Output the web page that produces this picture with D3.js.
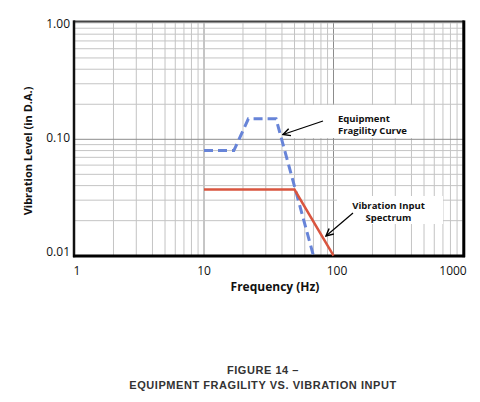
<!DOCTYPE html>
<html><head><meta charset="utf-8">
<script src="https://cdn.jsdelivr.net/npm/d3@7"></script>
<style>body{margin:0;background:#fff}svg{display:block}</style>
</head><body>
<svg id="c" width="480" height="402"></svg>
<script>
// ---- data ----
const fragilityFreq = [10, 17, 22, 36, 70];
const fragilityLevel = [0.08, 0.08, 0.15, 0.15, 0.01];
const inputFreq = [10, 50, 100];
const inputLevel = [0.037, 0.037, 0.01];
const xTicks = [1, 10, 100, 1000];
const xTickLabels = ["1", "10", "100", "1000"];
const yTicks = [0.01, 0.1, 1];
const yTickLabels = ["0.01", "0.10", "1.00"];
const xTitle = "Frequency (Hz)";
const yTitle = "Vibration Level (in D.A.)";
const caption = ["FIGURE 14 \u2013", "EQUIPMENT FRAGILITY VS. VIBRATION INPUT"];
const labelFragility = ["Equipment", "Fragility Curve"];
const labelInput = ["Vibration Input", "Spectrum"];

// ---- layout ----
const svg = d3.select("#c");
const L = 74.5, R = 463, T = 22.9, B = 255.7;
const x = d3.scaleLog().domain([1, 1000]).range([L, R]);
const y = d3.scaleLog().domain([0.01, 1]).range([B, T]);

// gridlines
const xg = [], yg = [];
for (let k = 0; k < 3; k++) for (let m = 1; m < 10; m++) xg.push(m * Math.pow(10, k));
xg.push(1000);
for (let k = -2; k < 0; k++) for (let m = 1; m < 10; m++) yg.push(m * Math.pow(10, k));
yg.push(1);
const grid = svg.append("g");
grid.selectAll("line.vx").data(xg).join("line")
  .attr("x1", d => x(d)).attr("x2", d => x(d)).attr("y1", T).attr("y2", B)
  .attr("stroke", d => (d === 10 || d === 100) ? "#8c8c8c" : "#c4c4c4").attr("stroke-width", 1);
grid.selectAll("line.hy").data(yg).join("line")
  .attr("y1", d => y(d)).attr("y2", d => y(d)).attr("x1", L).attr("x2", R)
  .attr("stroke", d => (d === 0.1) ? "#8c8c8c" : "#c4c4c4").attr("stroke-width", 1);

// label boxes (white) over grid
svg.append("rect").attr("x", 286).attr("y", 105).attr("width", 137).attr("height", 33).attr("fill", "#fff");
svg.append("rect").attr("x", 337).attr("y", 196).attr("width", 106).attr("height", 28).attr("fill", "#fff");

// frame
svg.append("line").attr("x1", L - 1).attr("x2", R + 1).attr("y1", T - 1.5).attr("y2", T - 1.5).attr("stroke", "#444").attr("stroke-width", 2);
svg.append("line").attr("x1", L - 0.5).attr("x2", L - 0.5).attr("y1", T - 2.5).attr("y2", B + 1.5).attr("stroke", "#111").attr("stroke-width", 2.5);
svg.append("line").attr("x1", R + 0.8).attr("x2", R + 0.8).attr("y1", T - 2.5).attr("y2", B + 1.5).attr("stroke", "#000").attr("stroke-width", 3);
svg.append("line").attr("x1", L - 1.5).attr("x2", R + 2).attr("y1", B + 0.3).attr("y2", B + 0.3).attr("stroke", "#000").attr("stroke-width", 3);

// series
const line = d3.line().x(d => x(d[0])).y(d => y(d[1]));
svg.append("path").datum(fragilityFreq.map((f, i) => [f, fragilityLevel[i]]))
  .attr("d", line).attr("fill", "none").attr("stroke", "#6784d8").attr("stroke-width", 3)
  .attr("stroke-dasharray", "9,5");
svg.append("path").datum(inputFreq.map((f, i) => [f, inputLevel[i]]))
  .attr("d", line).attr("fill", "none").attr("stroke", "#d9553f").attr("stroke-width", 2.5);

// arrows
const defs = svg.append("defs");
defs.append("marker").attr("id", "ah").attr("viewBox", "0 0 10 10").attr("refX", 9).attr("refY", 5)
  .attr("markerWidth", 9).attr("markerHeight", 9).attr("markerUnits", "userSpaceOnUse").attr("orient", "auto")
  .append("path").attr("d", "M1,1 L9,5 L1,9").attr("fill", "none").attr("stroke", "#000").attr("stroke-width", 1.6);
svg.append("line").attr("x1", 323).attr("y1", 121).attr("x2", 283).attr("y2", 134.5)
  .attr("stroke", "#000").attr("stroke-width", 1.2).attr("marker-end", "url(#ah)");
svg.append("line").attr("x1", 353).attr("y1", 213).attr("x2", 326).attr("y2", 236)
  .attr("stroke", "#000").attr("stroke-width", 1.2).attr("marker-end", "url(#ah)");

// annotation text
const ann = "font-family:'Open Sans',sans-serif;font-weight:bold;font-size:9.5px;fill:#111";
svg.append("text").attr("x", 338).attr("y", 121.5).attr("style", ann).text(labelFragility[0]);
svg.append("text").attr("x", 338).attr("y", 134).attr("style", ann).text(labelFragility[1]);
svg.append("text").attr("x", 388.5).attr("y", 208.5).attr("text-anchor", "middle").attr("style", ann).text(labelInput[0]);
svg.append("text").attr("x", 388.5).attr("y", 221).attr("text-anchor", "middle").attr("style", ann).text(labelInput[1]);

// tick labels
const tk = "font-family:'Open Sans',sans-serif;font-size:12px;fill:#111";
const xOff = [2.5, 0, 3.5, -10];
svg.selectAll("text.xt").data(xTicks).join("text")
  .attr("x", (d, i) => x(d) + xOff[i]).attr("y", 274.5).attr("text-anchor", "middle")
  .attr("style", tk).text((d, i) => xTickLabels[i]);
const yOff = [-4, -1, 1];
svg.selectAll("text.yt").data(yTicks).join("text")
  .attr("x", 70).attr("y", (d, i) => y(d) + 4 + yOff[i]).attr("text-anchor", "end")
  .attr("style", tk).text((d, i) => yTickLabels[i]);

// axis titles
const ttl = "font-family:'Open Sans',sans-serif;font-weight:bold;font-size:12px;fill:#111";
svg.append("text").attr("x", 275).attr("y", 291).attr("text-anchor", "middle").attr("style", ttl).text(xTitle);
svg.append("text").attr("transform", "translate(31.5,151) rotate(-90)").attr("text-anchor", "middle")
  .attr("style", ttl + ";font-size:11px").text(yTitle);

// caption
const cap = "font-family:'Liberation Sans',Arial,sans-serif;font-weight:bold;font-size:11px;letter-spacing:0.55px;fill:#333";
svg.append("text").attr("x", 263).attr("y", 374).attr("text-anchor", "middle").attr("style", cap).text(caption[0]);
svg.append("text").attr("x", 263).attr("y", 389).attr("text-anchor", "middle").attr("style", cap).text(caption[1]);
</script>
</body></html>
